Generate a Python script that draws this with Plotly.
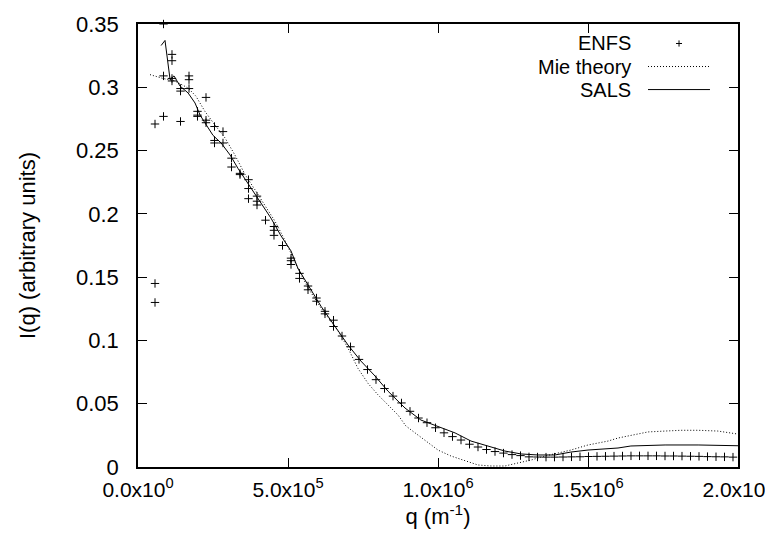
import plotly.graph_objects as go

# ---------------- data ----------------
enfs_q = [
    56700, 56700, 56700,
    85000, 85000, 85000,
    113300, 113300, 113300, 113300,
    141700, 141700, 141700,
    170000, 170000, 170000,
    198300, 198300, 198300,
    226700, 226700, 226700,
    255000, 255000, 255000,
    283300, 283300,
    311700, 311700,
    340000, 340000,
    368300, 368300, 368300,
    396700, 396700, 396700,
    425000,
    453300, 453300, 453300,
    481700,
    510000, 510000, 510000,
    538300, 538300,
    566700, 566700,
    595000, 595000,
    623300, 623300,
    651700, 651700,
    680000, 708300, 736700, 765000, 793300, 821700, 850000, 878300,
    906700, 935000, 963300, 991700, 1020000, 1048300, 1076700, 1105000,
    1133300, 1161700, 1190000, 1218300, 1246700, 1275000, 1303300, 1331700,
    1360000, 1388300, 1416700, 1445000, 1473300, 1501700, 1530000, 1558300,
    1586700, 1615000, 1643300, 1671700, 1700000, 1728300, 1756700, 1785000,
    1813300, 1841700, 1870000, 1898300, 1926700, 1955000, 1983300,
]
enfs_i = [
    0.271, 0.145, 0.130,
    0.350, 0.309, 0.277,
    0.326, 0.321, 0.307, 0.305,
    0.299, 0.297, 0.273,
    0.309, 0.306, 0.299,
    0.281, 0.278, 0.277,
    0.292, 0.274, 0.272,
    0.269, 0.258, 0.256,
    0.265, 0.256,
    0.244, 0.237,
    0.232, 0.231,
    0.227, 0.220, 0.212,
    0.214, 0.210, 0.207,
    0.195,
    0.190, 0.187, 0.183,
    0.175,
    0.165, 0.163, 0.160,
    0.153, 0.149,
    0.143, 0.140,
    0.1335, 0.131,
    0.123, 0.121,
    0.116, 0.111,
    0.1035, 0.095, 0.085, 0.077, 0.069, 0.062, 0.056, 0.0506,
    0.044, 0.0387, 0.035, 0.031, 0.027, 0.024, 0.0213, 0.018,
    0.0158, 0.0138, 0.0122, 0.0110, 0.0098, 0.0090, 0.0080, 0.0079,
    0.0078, 0.0078, 0.0079, 0.0080, 0.0081, 0.0083, 0.0084, 0.0085,
    0.0086, 0.0087, 0.0088, 0.0088, 0.0088, 0.0088, 0.0087, 0.0087,
    0.0086, 0.0085, 0.0084, 0.0082, 0.0081, 0.0080, 0.0078,
]

sals_q = [77000, 90000, 107000, 120000, 140000, 167000, 190000, 207000, 223000,
          250000, 277000, 307000, 333000, 367000, 400000, 443000, 477000, 510000,
          533000, 567000, 610000, 657000, 700000, 743000, 790000, 833000, 890000,
          943000, 1000000, 1057000, 1110000, 1167000, 1223000, 1277000, 1333000,
          1390000, 1443000, 1500000, 1600000, 1643000, 1757000, 1867000, 2000000]
sals_i = [0.333, 0.337, 0.306, 0.309, 0.301, 0.2955, 0.2876, 0.278, 0.272,
          0.262, 0.256, 0.2465, 0.236, 0.224, 0.2125, 0.1967, 0.1825, 0.1707,
          0.157, 0.1438, 0.127, 0.111, 0.0964, 0.0837, 0.0719, 0.060, 0.0466,
          0.0371, 0.032, 0.0269, 0.0205, 0.0166, 0.0126, 0.0103, 0.0095,
          0.0095, 0.0118, 0.0134, 0.015, 0.0166, 0.0174, 0.0174, 0.0168]

mie_q = [40000, 83000, 123000, 167000, 193000, 223000, 257000, 290000, 323000,
         357000, 390000, 423000, 457000, 490000, 533000, 567000, 610000, 667000,
         700000, 733000, 767000, 800000, 833000, 867000, 893000, 950000, 1000000,
         1043000, 1090000, 1133000, 1177000, 1223000, 1267000, 1310000, 1357000,
         1400000, 1443000, 1500000, 1533000, 1567000, 1600000, 1643000, 1700000,
         1757000, 1810000, 1867000, 1933000, 2000000]
mie_i = [0.310, 0.307, 0.305, 0.2994, 0.293, 0.281, 0.270, 0.260, 0.2465,
         0.231, 0.219, 0.207, 0.194, 0.179, 0.157, 0.1414, 0.1256, 0.1074,
         0.094, 0.078, 0.066, 0.057, 0.049, 0.041, 0.0324, 0.022, 0.0134,
         0.0087, 0.0047, 0.0016, 0.0008, 0.0008, 0.0032, 0.0055, 0.0087,
         0.011, 0.0134, 0.0174, 0.019, 0.0205, 0.0229, 0.025, 0.0277,
         0.0284, 0.029, 0.029, 0.0284, 0.026]

x_ticks = [0, 5e5, 1e6, 1.5e6, 2e6]
x_ticktext = ["0.0x10<sup>0</sup>", "5.0x10<sup>5</sup>", "1.0x10<sup>6</sup>",
              "1.5x10<sup>6</sup>", "2.0x10<sup>6</sup>"]
y_ticks = [0, 0.05, 0.1, 0.15, 0.2, 0.25, 0.3, 0.35]
y_ticktext = ["0", "0.05", "0.1", "0.15", "0.2", "0.25", "0.3", "0.35"]

x_title = "q (m<sup>-1</sup>)"
y_title = "I(q) (arbitrary units)"
legend_names = ["ENFS", "Mie theory", "SALS"]

# ---------------- figure ----------------
FONT = "Liberation Sans, Arial, Helvetica, sans-serif"
FS = 22

fig = go.Figure()
fig.add_trace(go.Scatter(x=mie_q, y=mie_i, mode="lines", name=legend_names[1],
                         line=dict(color="black", width=1, dash="1px,2px")))
fig.add_trace(go.Scatter(x=sals_q, y=sals_i, mode="lines", name=legend_names[2],
                         line=dict(color="black", width=1)))
fig.add_trace(go.Scatter(x=enfs_q, y=enfs_i, mode="markers", name=legend_names[0],
                         cliponaxis=False,
                         marker=dict(symbol="cross-thin", size=6, color="black",
                                     line=dict(width=1, color="black"))))

axis_common = dict(showgrid=False, zeroline=False, showline=True, linecolor="black",
                   linewidth=1.5, mirror="ticks", ticks="inside", ticklen=9,
                   tickwidth=1, tickcolor="black", ticklabeloverflow="allow")

fig.update_xaxes(range=[0, 2e6], tickmode="array", tickvals=x_ticks,
                 ticktext=x_ticktext, ticklabelstandoff=3,
                 tickfont=dict(family=FONT, size=21, color="black"),
                 title=dict(text=x_title, standoff=9,
                            font=dict(family=FONT, size=FS, color="black")),
                 **axis_common)
fig.update_yaxes(range=[0, 0.35], tickmode="array", tickvals=y_ticks,
                 ticktext=y_ticktext, ticklabelstandoff=13,
                 tickfont=dict(family=FONT, size=FS, color="black"),
                 title=dict(text=y_title, standoff=34,
                            font=dict(family=FONT, size=FS, color="black")),
                 **axis_common)

# legend drawn manually (text left of sample, as in the original)
leg_y = [0.956, 0.904, 0.852]
for name, yy in zip(legend_names, leg_y):
    fig.add_annotation(x=0.825, y=yy, xref="paper", yref="paper", text=name,
                       showarrow=False, xanchor="right", yanchor="middle",
                       font=dict(family=FONT, size=20, color="black"))
fig.add_shape(type="line", xref="paper", yref="paper", x0=0.85, x1=0.9533,
              y0=leg_y[1], y1=leg_y[1], line=dict(color="black", width=1, dash="1px,2px"))
fig.add_shape(type="line", xref="paper", yref="paper", x0=0.85, x1=0.9533,
              y0=leg_y[2], y1=leg_y[2], line=dict(color="black", width=1))
fig.add_shape(type="line", xref="paper", yref="paper", x0=0.9017 - 0.005, x1=0.9017 + 0.005,
              y0=leg_y[0], y1=leg_y[0], line=dict(color="black", width=1))
fig.add_shape(type="line", xref="paper", yref="paper", x0=0.9017, x1=0.9017,
              y0=leg_y[0] - 0.007, y1=leg_y[0] + 0.007, line=dict(color="black", width=1))

fig.update_layout(width=773, height=535, margin=dict(l=130, r=43, t=16, b=76, autoexpand=False),
                  plot_bgcolor="white", paper_bgcolor="white", showlegend=False,
                  font=dict(family=FONT, size=FS, color="black"))

fig.write_html("out.html")
